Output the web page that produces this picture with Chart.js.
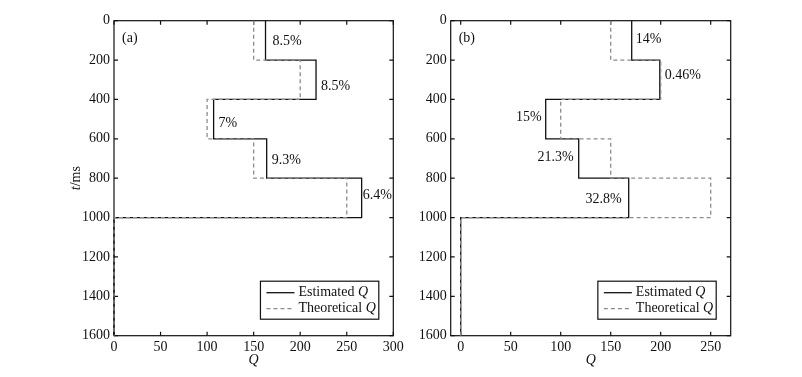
<!DOCTYPE html>
<html><head><meta charset="utf-8">
<script src="https://cdn.jsdelivr.net/npm/chart.js@4.4.1/dist/chart.umd.min.js"></script>
<style>
html,body{margin:0;padding:0;background:#fff;}
#wrap{position:relative;width:802px;height:377px;overflow:hidden;background:#fff;}
.panel{position:absolute;top:0;height:377px;}
</style></head><body>
<div id="wrap">
<div class="panel" style="left:0;width:430px"><canvas id="ca" width="430" height="377"></canvas></div>
<div class="panel" style="left:401px;width:401px"><canvas id="cb" width="401" height="377"></canvas></div>
</div>
<script>
// ---- data ----
const timeBounds = [0, 200, 400, 600, 800, 1000, 1600];
const theoreticalQ = [150, 200, 100, 150, 250, 0];
const estimatedQa = [162.75, 217, 107, 164, 266, 0];
const estimatedQb = [171, 199.1, 85, 118, 168, 0];
const timeTicks = [0, 200, 400, 600, 800, 1000, 1200, 1400, 1600];
const qTicksA = [0, 50, 100, 150, 200, 250, 300];
const qTicksB = [0, 50, 100, 150, 200, 250];
const errorLabelsA = ['8.5%', '8.5%', '7%', '9.3%', '6.4%'];
const errorLabelsB = ['14%', '0.46%', '15%', '21.3%', '32.8%'];
const seriesNames = ['Estimated ', 'Theoretical '];

// ---- label placement (layout, not data) ----
const labelLayoutA = { t: [103, 332, 520, 707, 888], align: ['left','left','left','left','left'], dx: [7, 5, 5, 5, 1] };
const labelLayoutB = { t: [93, 279, 490, 693, 905], align: ['left','left','right','right','right'], dx: [4, 5, -4, -5, -7] };

const FONT = "'Liberation Serif','Times New Roman',serif";
const TXT = '#111';

function stepPoints(vals) {
  const pts = [];
  vals.forEach((v, i) => {
    pts.push({ x: v, y: timeBounds[i] });
    pts.push({ x: v, y: timeBounds[i + 1] });
  });
  return pts;
}

const decorPlugin = {
  id: 'decor',
  beforeDatasetsDraw(chart, args, o) {
    const { ctx, chartArea: a, scales: { x, y } } = chart;
    ctx.save();
    ctx.strokeStyle = '#111';
    ctx.lineWidth = 1.2;
    ctx.strokeRect(a.left, a.top, a.right - a.left, a.bottom - a.top);
    const L = 4;
    ctx.beginPath();
    x.ticks.forEach(t => {
      const px = x.getPixelForValue(t.value);
      ctx.moveTo(px, a.top); ctx.lineTo(px, a.top + L);
      ctx.moveTo(px, a.bottom); ctx.lineTo(px, a.bottom - L);
    });
    y.ticks.forEach(t => {
      const py = y.getPixelForValue(t.value);
      ctx.moveTo(a.left, py); ctx.lineTo(a.left + L, py);
      ctx.moveTo(a.right, py); ctx.lineTo(a.right - L, py);
    });
    ctx.stroke();
    ctx.restore();
  },
  afterDatasetsDraw(chart, args, o) {
    const { ctx, chartArea: a, scales: { x, y } } = chart;
    ctx.save();
    ctx.fillStyle = TXT;
    ctx.font = '14px ' + FONT;
    ctx.textBaseline = 'middle';
    ctx.textAlign = 'left';
    ctx.fillText(o.tag, a.left + 8, a.top + 17.5);
    o.labels.forEach((txt, i) => {
      ctx.textAlign = o.layout.align[i];
      const px = x.getPixelForValue(o.est[i]) + o.layout.dx[i];
      const py = y.getPixelForValue(o.layout.t[i]);
      ctx.fillText(txt, px, py);
    });
    ctx.textAlign = 'center';
    ctx.font = 'italic 14px ' + FONT;
    ctx.fillText('Q', (a.left + a.right) / 2, 360);
    if (o.yTitle) {
      ctx.save();
      ctx.translate(76, (a.top + a.bottom) / 2);
      ctx.rotate(-Math.PI / 2);
      ctx.font = 'italic 14px ' + FONT;
      const w1 = ctx.measureText('t').width;
      ctx.font = '14px ' + FONT;
      const w2 = ctx.measureText('/ms').width;
      const start = -(w1 + w2) / 2;
      ctx.textAlign = 'left';
      ctx.font = 'italic 14px ' + FONT;
      ctx.fillText('t', start, 0);
      ctx.font = '14px ' + FONT;
      ctx.fillText('/ms', start + w1, 0);
      ctx.restore();
    }
    const ds = chart.data.datasets;
    const widths = seriesNames.map(n => {
      ctx.font = '14px ' + FONT; const a1 = ctx.measureText(n).width;
      ctx.font = 'italic 14px ' + FONT; const a2 = ctx.measureText('Q').width;
      return a1 + a2;
    });
    const bw = 6 + 28 + 4 + Math.max(...widths) + 3;
    const bh = 38;
    const bx = a.right - 14.5 - bw;
    const by = a.bottom - 16.5 - bh;
    ctx.fillStyle = '#fff';
    ctx.fillRect(bx, by, bw, bh);
    ctx.strokeStyle = '#111';
    ctx.lineWidth = 1.2;
    ctx.setLineDash([]);
    ctx.strokeRect(bx, by, bw, bh);
    seriesNames.forEach((n, i) => {
      const ry = by + 11.5 + i * 16;
      ctx.save();
      ctx.strokeStyle = ds[i].borderColor;
      ctx.lineWidth = ds[i].borderWidth;
      ctx.setLineDash(ds[i].borderDash || []);
      ctx.beginPath();
      ctx.moveTo(bx + 6, ry); ctx.lineTo(bx + 34, ry);
      ctx.stroke();
      ctx.restore();
      ctx.fillStyle = TXT;
      ctx.textAlign = 'left';
      ctx.font = '14px ' + FONT;
      ctx.fillText(n, bx + 38, ry);
      const w = ctx.measureText(n).width;
      ctx.font = 'italic 14px ' + FONT;
      ctx.fillText('Q', bx + 38 + w, ry);
    });
    ctx.restore();
  }
};

function makeChart(id, cfg) {
  const font = { family: FONT, size: 14 };
  return new Chart(document.getElementById(id), {
    type: 'scatter',
    data: {
      datasets: [
        { label: 'Estimated Q', data: stepPoints(cfg.est), showLine: true, borderColor: '#111', borderWidth: 1.3,
          pointRadius: 0, order: 2, clip: false },
        { label: 'Theoretical Q', data: stepPoints(theoreticalQ), showLine: true, borderColor: '#8c8c8c', borderWidth: 1.3,
          borderDash: [4, 3], pointRadius: 0, order: 1, clip: false }
      ]
    },
    options: {
      responsive: false, animation: false, devicePixelRatio: 1,
      layout: { padding: { left: 0, right: cfg.padRight, top: 20.7, bottom: 0 } },
      plugins: {
        legend: { display: false }, tooltip: { enabled: false },
        decor: { tag: cfg.tag, labels: cfg.labels, est: cfg.est, layout: cfg.layout, yTitle: cfg.yTitle }
      },
      scales: {
        x: {
          type: 'linear', position: 'bottom', min: cfg.xMin, max: cfg.xMax,
          grid: { display: false, drawTicks: false }, border: { display: false },
          ticks: { padding: 3, font, color: TXT, maxRotation: 0, callback: v => String(v) },
          afterBuildTicks: s => { s.ticks = cfg.xTicks.map(v => ({ value: v })); },
          afterFit: s => { s.height = 41.3; s.paddingLeft = 0; s.paddingRight = 0; }
        },
        y: {
          type: 'linear', reverse: true, min: 0, max: 1600,
          grid: { display: false, drawTicks: false }, border: { display: false },
          ticks: { padding: 4, font, color: TXT, callback: v => String(v) },
          afterBuildTicks: s => { s.ticks = timeTicks.map(v => ({ value: v })); },
          afterFit: s => { s.width = cfg.yWidth; s.paddingTop = 0; s.paddingBottom = 0; }
        }
      }
    },
    plugins: [decorPlugin]
  });
}

makeChart('ca', { est: estimatedQa, labels: errorLabelsA, layout: labelLayoutA, tag: '(a)', yTitle: true,
  xMin: 0, xMax: 300, xTicks: qTicksA, yWidth: 114, padRight: 36.7 });
makeChart('cb', { est: estimatedQb, labels: errorLabelsB, layout: labelLayoutB, tag: '(b)', yTitle: false,
  xMin: -10, xMax: 270, xTicks: qTicksB, yWidth: 49.7, padRight: 71.3 });
</script>
</body></html>
